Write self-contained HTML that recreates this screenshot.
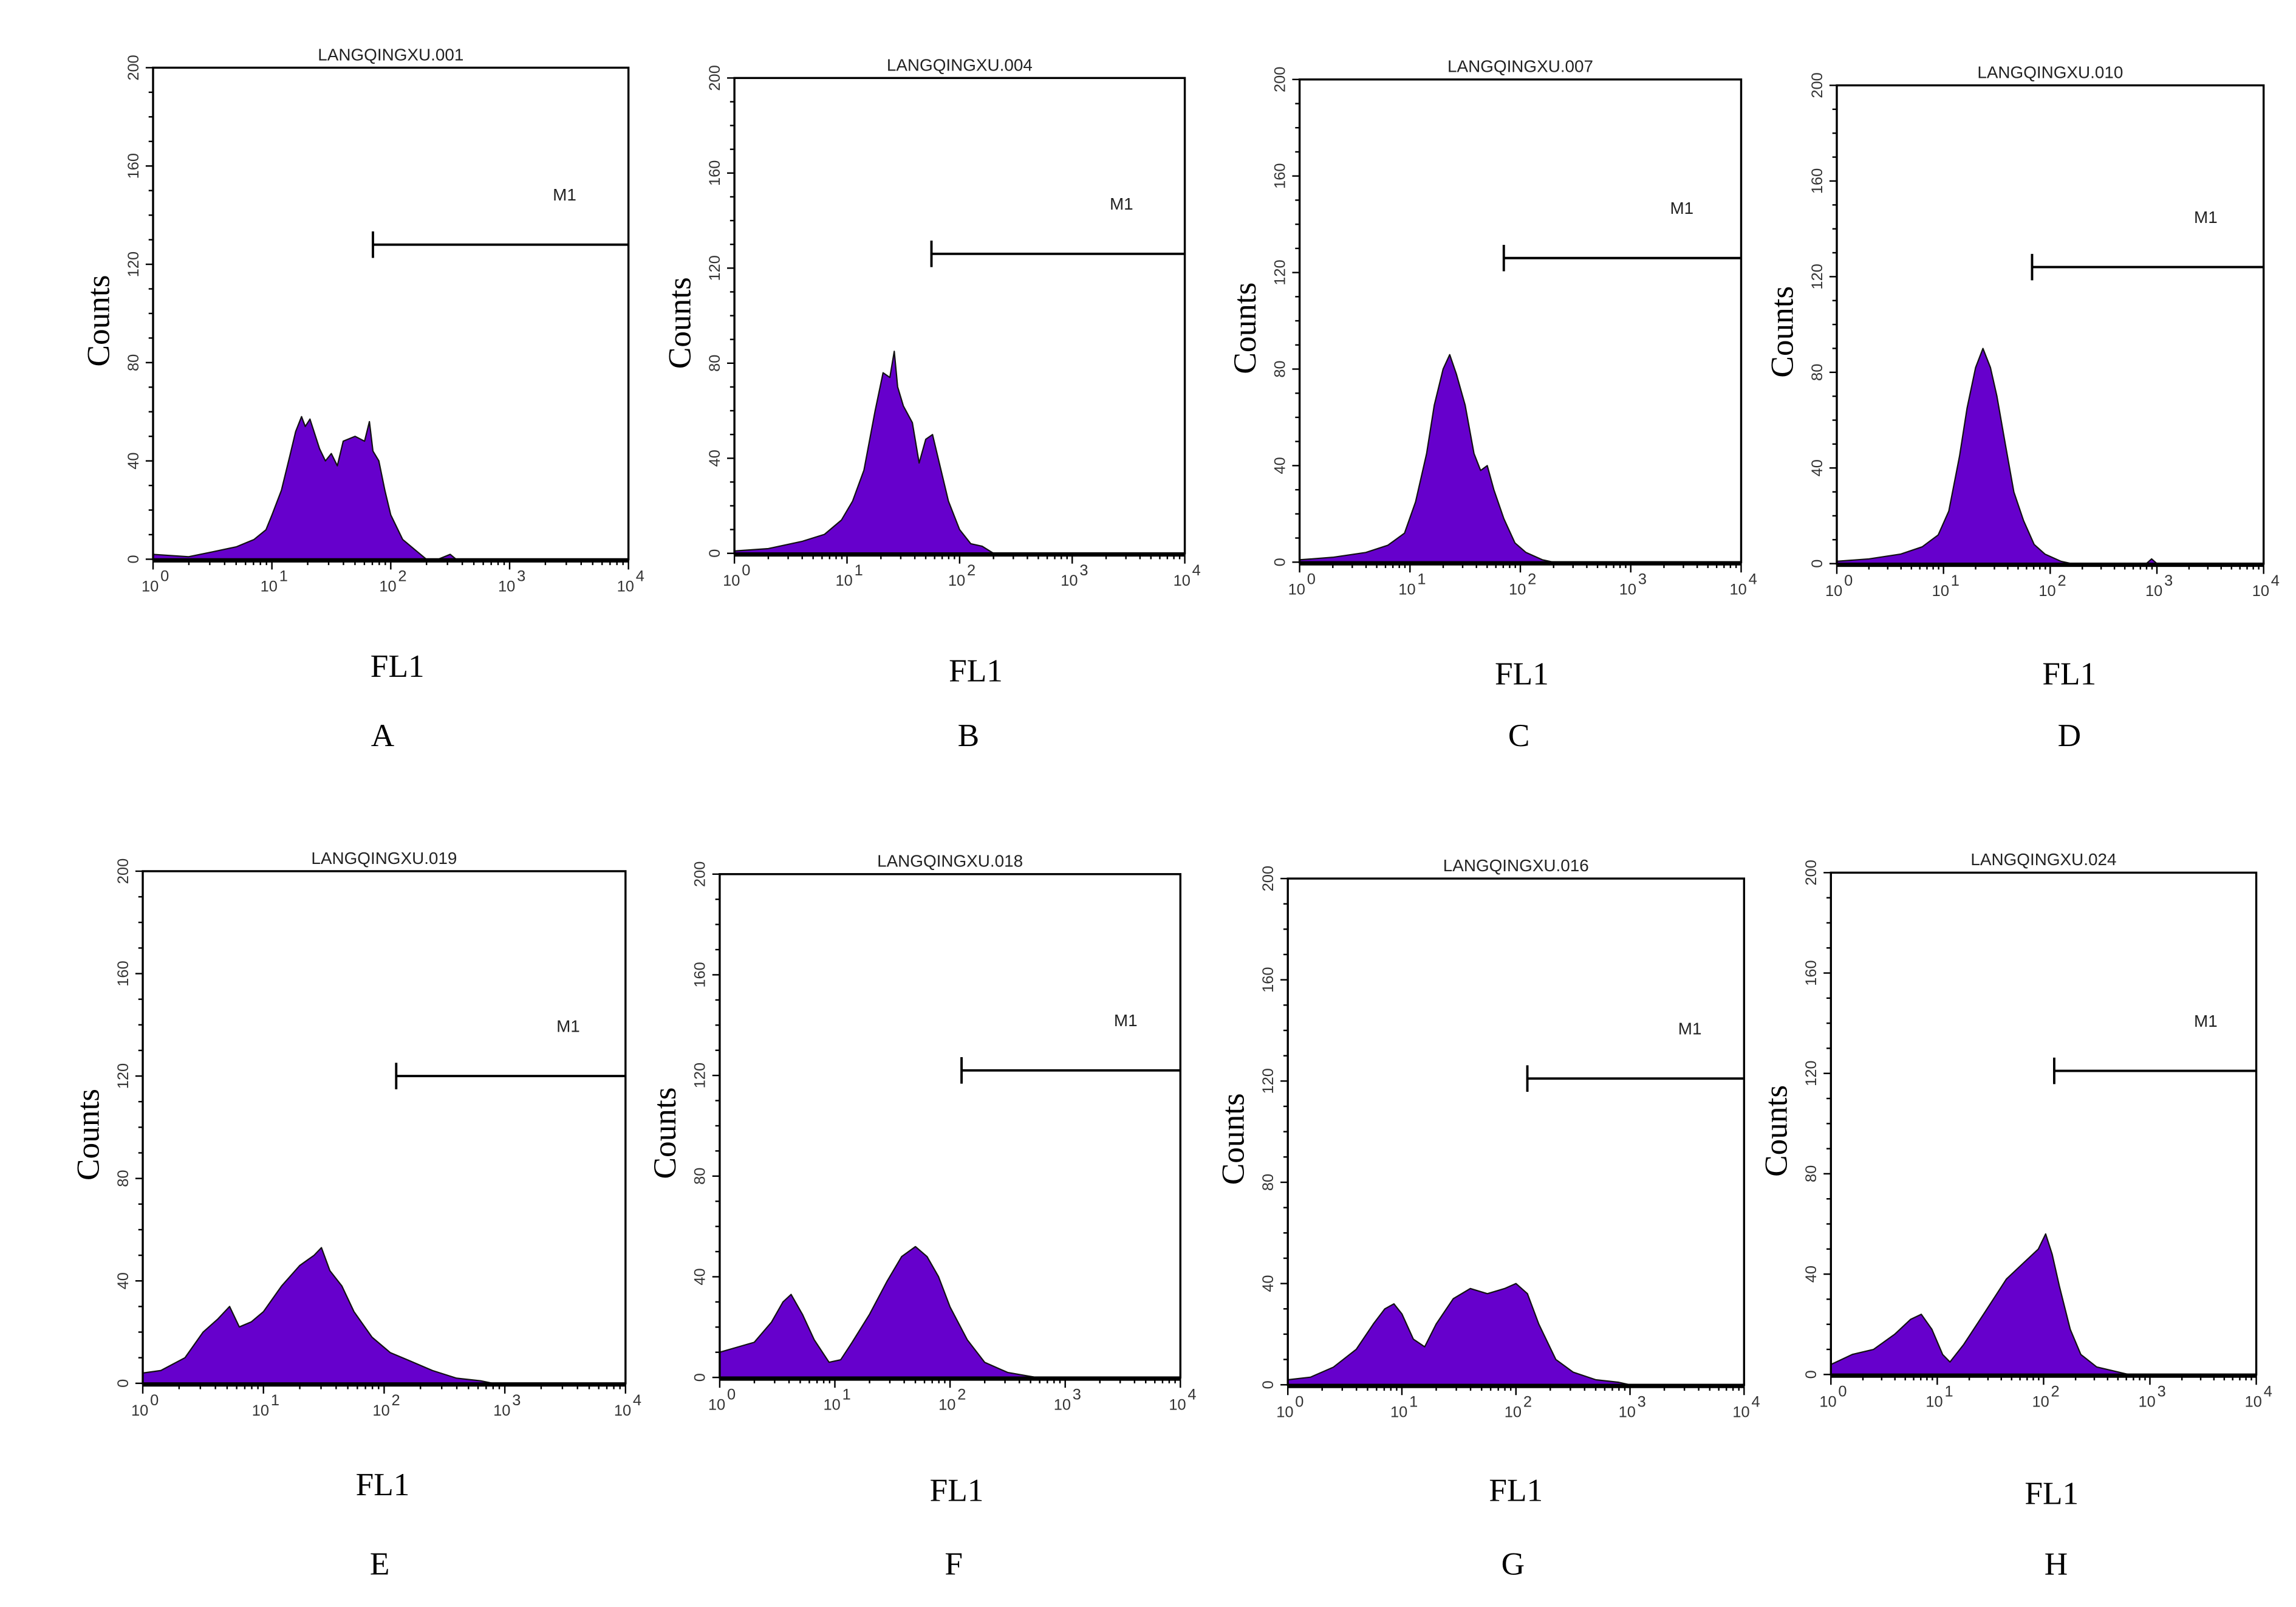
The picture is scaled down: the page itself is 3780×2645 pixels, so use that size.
<!DOCTYPE html>
<html><head><meta charset="utf-8"><style>
html,body{margin:0;padding:0;background:#fff}
svg{display:block}
.tk{font-family:"Liberation Sans",sans-serif;font-size:10.5px;fill:#333}
.ttl{font-family:"Liberation Sans",sans-serif;font-size:11.5px;fill:#222}
.big{font-family:"Liberation Serif",serif;font-size:22px;fill:#000}
</style></head><body>
<svg id="fig" width="3780" height="2645" viewBox="0 0 1560 1092" preserveAspectRatio="none" xmlns="http://www.w3.org/2000/svg"></svg>
<script>
// Data (log10 FL1, counts) per panel
const panelLetters = ["A","B","C","D","E","F","G","H"];
const panelTitles = ["LANGQINGXU.001","LANGQINGXU.004","LANGQINGXU.007","LANGQINGXU.010","LANGQINGXU.019","LANGQINGXU.018","LANGQINGXU.016","LANGQINGXU.024"];
const yTickLabels = [0,40,80,120,160,200];
const xTickLabels = ["0","1","2","3","4"];
const markerCounts = [128,126,126,124,120,122,121,121];
const markerStart = [1.85,1.75,1.85,1.83,2.1,2.1,2.1,2.1];
const histA = [[0,2],[0.3,1],[0.5,3],[0.7,5],[0.85,8],[0.95,12],[1.0,18],[1.08,28],[1.15,42],[1.2,52],[1.25,58],[1.28,54],[1.32,57],[1.4,45],[1.45,40],[1.5,43],[1.55,38],[1.6,48],[1.7,50],[1.78,48],[1.82,56],[1.85,44],[1.9,40],[1.95,28],[2.0,18],[2.1,8],[2.2,4],[2.3,0],[2.4,0],[2.5,2],[2.55,0]];
const histB = [[0,1],[0.3,2],[0.6,5],[0.8,8],[0.95,14],[1.05,22],[1.15,35],[1.25,60],[1.32,76],[1.38,74],[1.42,85],[1.45,70],[1.5,62],[1.58,55],[1.64,38],[1.7,48],[1.76,50],[1.82,38],[1.9,22],[2.0,10],[2.1,4],[2.2,3],[2.3,0]];
const histC = [[0,1],[0.3,2],[0.6,4],[0.8,7],[0.95,12],[1.05,25],[1.15,45],[1.22,65],[1.3,80],[1.36,86],[1.42,78],[1.5,65],[1.58,45],[1.64,38],[1.7,40],[1.76,30],[1.85,18],[1.95,8],[2.05,4],[2.2,1],[2.3,0]];
const histD = [[0,1],[0.3,2],[0.6,4],[0.8,7],[0.95,12],[1.05,22],[1.15,45],[1.22,65],[1.3,82],[1.37,90],[1.44,82],[1.5,70],[1.58,50],[1.66,30],[1.75,18],[1.85,8],[1.95,4],[2.1,1],[2.2,0],[2.9,0],[2.95,2],[3.0,0]];
const histE = [[0,4],[0.15,5],[0.35,10],[0.5,20],[0.62,25],[0.72,30],[0.8,22],[0.9,24],[1.0,28],[1.15,38],[1.3,46],[1.42,50],[1.48,53],[1.55,44],[1.65,38],[1.75,28],[1.9,18],[2.05,12],[2.2,9],[2.4,5],[2.6,2],[2.8,1],[2.9,0]];
const histF = [[0,10],[0.15,12],[0.3,14],[0.45,22],[0.55,30],[0.62,33],[0.72,25],[0.82,15],[0.95,6],[1.05,7],[1.15,14],[1.3,25],[1.45,38],[1.58,48],[1.7,52],[1.8,48],[1.9,40],[2.0,28],[2.15,15],[2.3,6],[2.5,2],[2.75,0]];
const histG = [[0,2],[0.2,3],[0.4,7],[0.6,14],[0.75,24],[0.85,30],[0.93,32],[1.0,28],[1.1,18],[1.2,15],[1.3,24],[1.45,34],[1.6,38],[1.75,36],[1.9,38],[2.0,40],[2.1,36],[2.2,24],[2.35,10],[2.5,5],[2.7,2],[2.9,1],[3.0,0]];
const histH = [[0,4],[0.2,8],[0.4,10],[0.6,16],[0.75,22],[0.85,24],[0.95,18],[1.05,8],[1.12,5],[1.25,12],[1.45,25],[1.65,38],[1.8,44],[1.95,50],[2.02,56],[2.08,48],[2.15,35],[2.25,18],[2.35,8],[2.5,3],[2.7,1],[2.8,0]];
const hists = [histA,histB,histC,histD,histE,histF,histG,histH];

const boxes = [
 [104,427,46,380],[499,805,53,376],[883,1183,54,382],[1248,1538,58,383],
 [97,425,592,940],[489,802,594,936],[875,1185,597,941],[1244,1533,593,934]];
const labelPos = [[270,453,260,500],[663,456,658,500],[1034,458,1032,500],[1406,458,1406,500],
 [260,1009,258,1063],[650,1013,648,1063],[1030,1013,1028,1063],[1394,1015,1397,1063]];

const NS="http://www.w3.org/2000/svg";
const svg=document.getElementById('fig');
function mk(tag,attrs,parent){const e=document.createElementNS(NS,tag);for(const k in attrs)e.setAttribute(k,attrs[k]);(parent||svg).appendChild(e);return e;}

boxes.forEach((b,i)=>{
  const [L,R,T,B]=b;
  const xs=v=>L+(R-L)*v/4;
  const ys=c=>B-(B-T)*c/200;
  const g=mk('g',{});
  
  
  const h=hists[i];
  let d='M'+xs(h[0][0])+','+ys(0);
  h.forEach(p=>{d+=' L'+xs(p[0]).toFixed(1)+','+ys(p[1]).toFixed(1);});
  d+=' L'+xs(h[h.length-1][0])+','+ys(0)+' Z';
  const hp=mk('path',{d:d,fill:'#6600cc',stroke:'#111','stroke-width':0.9,'stroke-linejoin':'round'},g);
  
  
  const fr=mk('rect',{x:L,y:T,width:R-L,height:B-T,fill:'none',stroke:'#000','stroke-width':1.4},g);
  
  
  mk('line',{x1:L,x2:R,y1:B+1,y2:B+1,stroke:'#000','stroke-width':2.5},g);
  const t=mk('text',{x:(L+R)/2,y:T-5,'text-anchor':'middle',class:'ttl'},g);
  t.textContent=panelTitles[i];
  
  
  for(let c=0;c<=200;c+=10){
    const major=c%40===0;
    mk('line',{x1:L-(major?5:3),x2:L,y1:ys(c),y2:ys(c),stroke:'#000','stroke-width':1},g);
  }
  yTickLabels.forEach(v=>{
    const tx=mk('text',{x:0,y:0,class:'tk','text-anchor':'middle',transform:`translate(${L-10},${ys(v)}) rotate(-90)`},g);
    tx.textContent=v;
    
    
  });
  for(let dec=0;dec<4;dec++){
    for(let m=1;m<10;m++){
      const v=dec+Math.log10(m);
      mk('line',{x1:xs(v),x2:xs(v),y1:B,y2:B+(m===1?7:4),stroke:'#000','stroke-width':1},g);
    }
  }
  mk('line',{x1:xs(4),x2:xs(4),y1:B,y2:B+7,stroke:'#000','stroke-width':1},g);
  xTickLabels.forEach((s,k)=>{
    const tx=mk('text',{x:xs(k)-2,y:B+22,class:'tk','text-anchor':'middle','font-size':'11'},g);
    tx.textContent='10';
    
    
    const sp=mk('text',{x:xs(k)+5,y:B+15,class:'tk','font-size':'9'},g);
    sp.textContent=s;
    
    
  });
  const mx=xs(markerStart[i]), my=ys(markerCounts[i]);
  const ml=mk('path',{d:`M${mx},${my-9} L${mx},${my+9} M${mx},${my} L${R},${my}`,stroke:'#000','stroke-width':1.6,fill:'none'},g);
  
  
  const mt=mk('text',{x:mx+(R-mx)*0.75,y:my-30,class:'ttl','text-anchor':'middle'},g);
  mt.textContent='M1';
  
  
  const cy=(T+B)/2+30;
  const cl=mk('text',{x:0,y:0,class:'big','text-anchor':'middle',transform:`translate(${L-30},${cy-25}) rotate(-90)`},g);
  cl.textContent='Counts';
  
  
  const lp=labelPos[i];
  const fl=mk('text',{x:lp[0],y:lp[1]+7,class:'big','text-anchor':'middle'},g);
  fl.textContent='FL1';
  
  
  const le=mk('text',{x:lp[2],y:lp[3]+7,class:'big','text-anchor':'middle'},g);
  le.textContent=panelLetters[i];
  
  
});
</script>
</body></html>
